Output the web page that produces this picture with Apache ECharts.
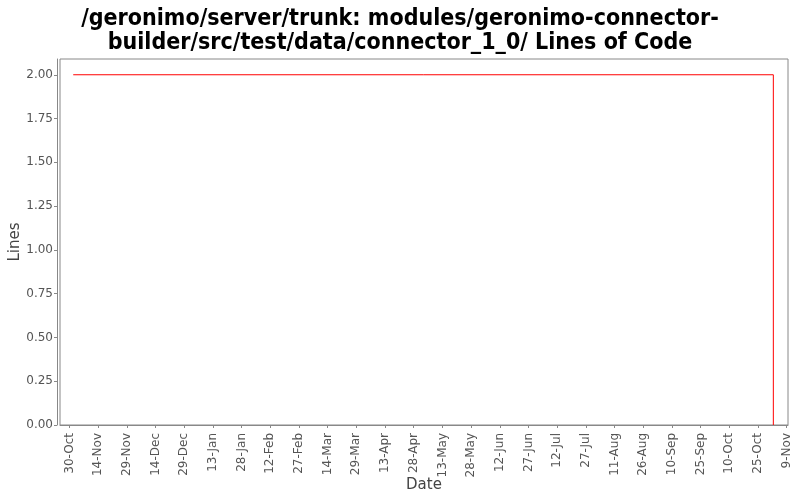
<!DOCTYPE html>
<html>
<head>
<meta charset="utf-8">
<script src="https://cdn.jsdelivr.net/npm/echarts@6/dist/echarts.min.js"></script>
<style>html,body{margin:0;padding:0;background:#fff}#c{width:800px;height:500px}</style>
</head>
<body>
<div id="c"></div>
<script>
const titleText = "/geronimo/server/trunk: modules/geronimo-connector-\nbuilder/src/test/data/connector_1_0/ Lines of Code";
const dates = ["2005-11-01", "2006-11-02", "2006-11-02"];
const lines = [2, 2, 0];
const tickDates = ["2005-10-30","2005-11-14","2005-11-29","2005-12-14","2005-12-29","2006-01-13","2006-01-28","2006-02-12","2006-02-27","2006-03-14","2006-03-29","2006-04-13","2006-04-28","2006-05-13","2006-05-28","2006-06-12","2006-06-27","2006-07-12","2006-07-27","2006-08-11","2006-08-26","2006-09-10","2006-09-25","2006-10-10","2006-10-25","2006-11-09"];
const yTicks = [0, 0.25, 0.5, 0.75, 1, 1.25, 1.5, 1.75, 2];
const xMinDate = "2005-10-25T02:00:00Z";
const xMaxDate = "2006-11-09T16:00:00Z";
const months = ["Jan","Feb","Mar","Apr","May","Jun","Jul","Aug","Sep","Oct","Nov","Dec"];

const ts = d => Date.parse(d.length === 10 ? d + "T00:00:00Z" : d);
const fmt = v => { const d = new Date(v); return d.getUTCDate() + "-" + months[d.getUTCMonth()]; };

const chart = echarts.init(document.getElementById('c'), null, {renderer: 'canvas'});
chart.setOption({
  backgroundColor: '#fff',
  animation: false,
  title: {
    text: titleText,
    left: 'center',
    top: 2,
    textStyle: {fontFamily: 'DejaVu Sans Condensed', fontWeight: 'bold', fontSize: 23, color: '#000', lineHeight: 24}
  },
  grid: {left: 60, right: 12, top: 59, bottom: 75, show: true, borderColor: '#888', borderWidth: 1, backgroundColor: '#fff', outerBoundsMode: 'none', containLabel: false},
  xAxis: {
    type: 'value',
    min: ts(xMinDate),
    max: ts(xMaxDate),
    offset: 4,
    name: 'Date',
    nameLocation: 'middle',
    nameGap: 49,
    nameMoveOverlap: false,
    nameTextStyle: {fontFamily: 'DejaVu Sans', fontSize: 15, color: '#444'},
    axisLine: {show: true, lineStyle: {color: '#888'}},
    axisTick: {show: true, length: 3, lineStyle: {color: '#888'}, customValues: tickDates.map(ts)},
    axisLabel: {rotate: 90, fontFamily: 'DejaVu Sans', fontSize: 12, color: '#555', margin: 4, formatter: fmt, customValues: tickDates.map(ts)},
    splitLine: {show: false}
  },
  yAxis: {
    type: 'value',
    min: 0,
    max: 2.09,
    offset: 3,
    name: 'Lines',
    nameLocation: 'middle',
    nameGap: 34,
    nameMoveOverlap: false,
    nameTextStyle: {fontFamily: 'DejaVu Sans', fontSize: 15, color: '#444'},
    axisLine: {show: true, lineStyle: {color: '#888'}},
    axisTick: {show: true, length: 3, lineStyle: {color: '#888'}, customValues: yTicks},
    axisLabel: {fontFamily: 'DejaVu Sans', fontSize: 12, color: '#555', margin: 4, formatter: v => v.toFixed(2), customValues: yTicks},
    splitLine: {show: false}
  },
  series: [{
    type: 'line',
    data: dates.map((d, i) => [ts(d), lines[i]]),
    symbol: 'none',
    lineStyle: {color: '#ff0000', width: 1},
    itemStyle: {color: '#ff0000'}
  }]
});
</script>
</body>
</html>
